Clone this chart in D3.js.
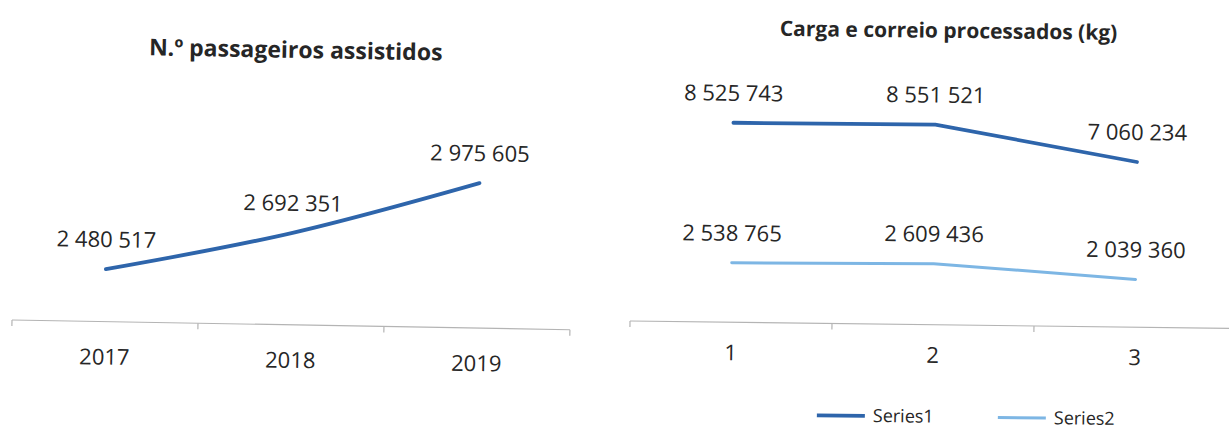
<!DOCTYPE html>
<html>
<head>
<meta charset="utf-8">
<script src="https://cdn.jsdelivr.net/npm/d3@7"></script>
<style>
  html, body { margin: 0; padding: 0; background: #fff; }
  svg { display: block; }
  text { font-family: "Open Sans", "Noto Sans", sans-serif; fill: #262626; }
</style>
</head>
<body>
<svg id="chart" width="1229" height="430"></svg>
<script>
// Passengers assisted per year
const paxYears = ["2017", "2018", "2019"];
const paxValues = [2480517, 2692351, 2975605];

// Cargo and mail processed (kg)
const cargoCategories = ["1", "2", "3"];
const cargoSeries1 = [8525743, 8551521, 7060234];
const cargoSeries2 = [2538765, 2609436, 2039360];
const cargoSeriesNames = ["Series1", "Series2"];

const svg = d3.select("#chart");
const fmt = v => d3.format(",")(v).replace(/,/g, " ");
const darkBlue = "#2e65ab";
const lightBlue = "#7db6e4";
const axisGrey = "#b4b4b4";

function categoryAxis(g, x, y0) {
  const [a, b] = x.range();
  g.append("line")
    .attr("x1", a).attr("x2", b).attr("y1", y0).attr("y2", y0)
    .attr("stroke", axisGrey).attr("stroke-width", 1.2);
  const edges = [a, ...x.domain().map(d => x(d) + x.bandwidth())];
  g.selectAll(null).data(edges).join("line")
    .attr("x1", d => d).attr("x2", d => d)
    .attr("y1", y0).attr("y2", y0 + 6)
    .attr("stroke", axisGrey).attr("stroke-width", 1.2);
}

// ---------- Left chart: N.º passageiros assistidos ----------
{
  const g = svg.append("g").attr("transform", "rotate(1.0,12,320)");
  const x = d3.scaleBand().domain(paxYears).range([12, 570]);
  const y = d3.scaleLinear().domain([2200000, 3200000]).range([320, 133]);
  const cx = d => x(d) + x.bandwidth() / 2;

  g.append("text")
    .attr("x", 291).attr("y", 53)
    .attr("text-anchor", "middle")
    .style("font-weight", "bold").style("font-size", "23px")
    .text("N.º passageiros assistidos");

  categoryAxis(g, x, 320);

  g.selectAll(".cat").data(paxYears).join("text")
    .attr("x", cx).attr("y", 363)
    .attr("text-anchor", "middle").style("font-size", "22px")
    .text(d => d);

  const line = d3.line()
    .x((d, i) => cx(paxYears[i]))
    .y(d => y(d))
    .curve(d3.curveMonotoneX);

  g.append("path").datum(paxValues)
    .attr("d", line).attr("fill", "none")
    .attr("stroke", darkBlue).attr("stroke-width", 3.8)
    .attr("stroke-linecap", "round");

  g.selectAll(".lbl").data(paxValues).join("text")
    .attr("x", (d, i) => cx(paxYears[i]))
    .attr("y", d => y(d) - 22)
    .attr("text-anchor", "middle").style("font-size", "22px")
    .text(fmt);
}

// ---------- Right chart: Carga e correio processados (kg) ----------
{
  const g = svg.append("g").attr("transform", "rotate(0.7,628,321)");
  const x = d3.scaleBand().domain(cargoCategories).range([630, 1236]);
  const y = d3.scaleLinear().domain([0, 10000000]).range([321, 87]);
  const cx = d => x(d) + x.bandwidth() / 2;

  g.append("text")
    .attr("x", 945).attr("y", 34)
    .attr("text-anchor", "middle")
    .style("font-weight", "bold").style("font-size", "21px")
    .text("Carga e correio processados (kg)");

  categoryAxis(g, x, 321);

  g.selectAll(".cat").data(cargoCategories).join("text")
    .attr("x", cx).attr("y", 359)
    .attr("text-anchor", "middle").style("font-size", "22px")
    .text(d => d);

  const series = [
    { name: cargoSeriesNames[0], values: cargoSeries1, color: darkBlue, width: 3.8 },
    { name: cargoSeriesNames[1], values: cargoSeries2, color: lightBlue, width: 3 }
  ];

  const line = d3.line()
    .x((d, i) => cx(cargoCategories[i]))
    .y(d => y(d));

  series.forEach(s => {
    g.append("path").datum(s.values)
      .attr("d", line).attr("fill", "none")
      .attr("stroke", s.color).attr("stroke-width", s.width)
      .attr("stroke-linecap", "round");
    g.selectAll(null).data(s.values).join("text")
      .attr("x", (d, i) => cx(cargoCategories[i]))
      .attr("y", d => y(d) - 22)
      .attr("text-anchor", "middle").style("font-size", "22px")
      .text(fmt);
  });

  // legend
  const legendX = [818, 999];
  const leg = g.selectAll(".leg").data(series).join("g")
    .attr("transform", (d, i) => `translate(${legendX[i]},413)`);
  leg.append("line")
    .attr("x1", 0).attr("x2", 48).attr("y1", 0).attr("y2", 0)
    .attr("stroke", d => d.color).attr("stroke-width", d => d.width);
  leg.append("text")
    .attr("x", 56).attr("y", 6)
    .style("font-size", "18px")
    .text(d => d.name);
}
</script>
</body>
</html>
